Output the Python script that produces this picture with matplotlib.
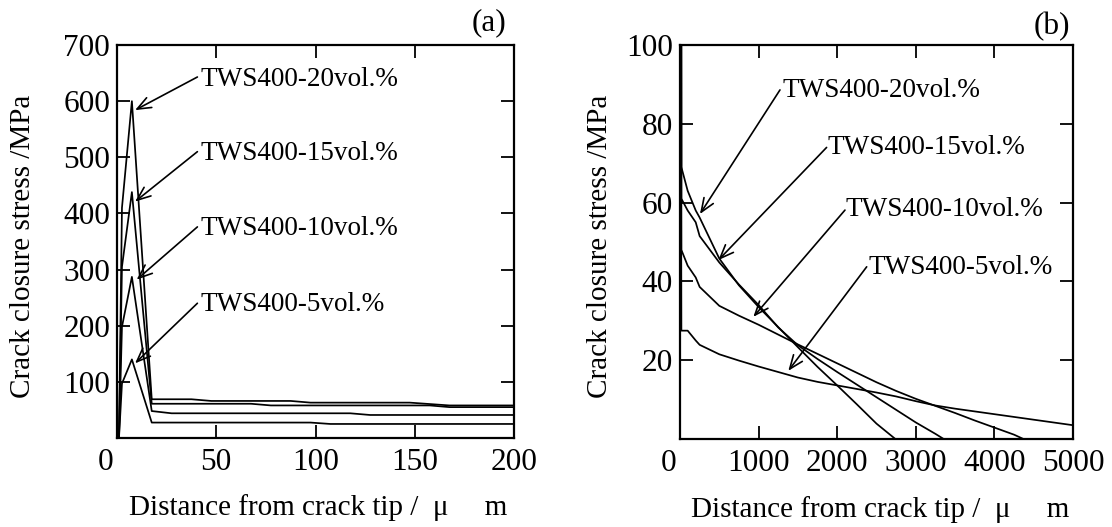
import numpy as np
import matplotlib
matplotlib.use("Agg")
import matplotlib.pyplot as plt

plt.rcParams['font.family'] = ['Liberation Serif', 'DejaVu Serif']

# ---------------- data ----------------
series = ["TWS400-20vol.%", "TWS400-15vol.%", "TWS400-10vol.%", "TWS400-5vol.%"]

# near-tip region (panel a)
a_x = [1, 2.5, 7.5, 17.5, 27.5, 37.5, 47.5, 57.5, 67.5, 77.5, 87.5, 97.5,
       107.5, 117.5, 127.5, 137.5, 147.5, 157.5, 167.5, 177.5, 187.5, 200]
a_20 = [0, 410, 600, 69, 69, 69, 66, 66, 66, 66, 66, 63,
        63, 63, 63, 63, 63, 60.5, 58, 58, 58, 58]
a_15 = [0, 305, 438, 61, 61, 61, 61, 61, 61, 58, 58, 58,
        58, 58, 58, 58, 58, 58, 55, 55, 55, 55]
a_10 = [0, 198, 287, 48, 44, 44, 44, 44, 44, 44, 44, 44,
        44, 44, 41, 41, 41, 41, 41, 41, 41, 41]
a_5 = [0, 97, 140, 27.5, 27.5, 27.5, 27.5, 27.5, 27.5, 27.5, 27.5, 27.5,
       25, 25, 25, 25, 25, 25, 25, 25, 25, 25]

# points of the near-tip data that are kept at the coarse scale of panel b
b_keep = [0, 1, 2, 3, 11, 21]

# far region (panel b continuation)
b20_x = [250, 500, 750, 1000, 1250, 1500, 1750, 2000, 2250, 2500, 2740]
b20_y = [56.2, 45.8, 39.0, 33.5, 28.4, 23.3, 18.3, 13.6, 8.8, 3.9, 0]
b15_x = [250, 500, 750, 1000, 1250, 1500, 1750, 2000, 2250, 2500, 2750, 3000, 3250, 3355]
b15_y = [51.5, 44.8, 39.2, 34.0, 28.3, 23.8, 20.3, 17.0, 13.8, 10.6, 7.4, 4.2, 1.3, 0]
b10_x = [250, 500, 750, 1000, 1250, 1500, 1750, 2000, 2250, 2500, 2750, 3000,
         3250, 3500, 3750, 4000, 4250, 4370]
b10_y = [38.6, 33.8, 31.3, 29.0, 26.5, 24.0, 21.6, 19.2, 16.8, 14.4, 12.2, 10.2,
         8.4, 6.6, 4.7, 2.9, 1.1, 0]
b5_x = [250, 500, 750, 1000, 1250, 1500, 1750, 2000, 2250, 2500, 2750, 3000,
        3250, 3500, 3750, 4000, 4250, 4500, 4750, 5000]
b5_y = [23.9, 21.5, 19.9, 18.4, 17.0, 15.6, 14.5, 13.6, 12.7, 11.8, 10.8, 9.6,
        8.5, 7.7, 7.0, 6.3, 5.6, 4.9, 4.2, 3.5]

a_xticks = [0, 50, 100, 150, 200]
a_yticks = [100, 200, 300, 400, 500, 600, 700]
b_xticks = [0, 1000, 2000, 3000, 4000, 5000]
b_yticks = [20, 40, 60, 80, 100]

xlabel = "Distance from crack tip /  \u03bc     m"
ylabel = "Crack closure stress /MPa"

curves = [
    (a_20, b20_x, b20_y),
    (a_15, b15_x, b15_y),
    (a_10, b10_x, b10_y),
    (a_5, b5_x, b5_y),
]

# ---------------- figure ----------------
W, H = 1112, 527
fig = plt.figure(figsize=(W / 100, H / 100), dpi=100)

def frac_axes(l, t, r, b):
    return fig.add_axes([l / W, 1 - b / H, (r - l) / W, (b - t) / H])

axA = frac_axes(117, 45, 514, 438)
axB = frac_axes(680, 45, 1073, 439)

TICK_FS = 22.5
LAB_FS = 21
ANN_FS = 19.5

for ax in (axA, axB):
    for sp in ax.spines.values():
        sp.set_linewidth(1.6)
    ax.tick_params(direction='in', length=9.5, width=1.3, top=True, right=True,
                   labelsize=TICK_FS)
    ax.tick_params(axis='y', pad=5)
    ax.tick_params(axis='x', pad=7)

for a_y, bx, by in curves:
    axA.plot(list(a_x) + list(bx), list(a_y) + list(by), color='black', lw=1.25)
    near_x = [a_x[i] for i in b_keep]
    near_y = [a_y[i] for i in b_keep]
    axB.plot(near_x + list(bx), near_y + list(by), color='black', lw=1.25)

axA.set_xlim(0, 200)
axA.set_ylim(0, 700)
axA.set_xticks(a_xticks)
axA.set_xticklabels([''] + [str(v) for v in a_xticks[1:]])
axA.set_yticks(a_yticks)
axA.set_yticklabels([str(v) for v in a_yticks])

axB.set_xlim(0, 5000)
axB.set_ylim(0, 100)
axB.set_xticks(b_xticks)
axB.set_xticklabels([''] + [str(v) for v in b_xticks[1:]])
axB.set_yticks(b_yticks)
axB.set_yticklabels([str(v) for v in b_yticks])

# origin "0" labels, shifted slightly left
for ax in (axA, axB):
    ax.annotate('0', xy=(0, 0), xycoords='axes fraction', xytext=(-8, -7),
                textcoords='offset points', ha='center', va='top', fontsize=TICK_FS)

# axis labels
for ax, xl, yl in ((axA, 0.506, -0.237), (axB, 0.509, -0.204)):
    ax.set_xlabel(xlabel, fontsize=LAB_FS)
    ax.xaxis.set_label_coords(xl, -0.178)
    ax.xaxis.label.set_va('center')
    ax.set_ylabel(ylabel, fontsize=LAB_FS)
    ax.yaxis.set_label_coords(yl, 0.489)
    ax.yaxis.label.set_va('center')

# panel tags
axA.text(0.982, 1.056, "(a)", transform=axA.transAxes, ha='right', va='center',
         fontsize=TICK_FS)
axB.text(0.992, 1.048, "(b)", transform=axB.transAxes, ha='right', va='center',
         fontsize=TICK_FS)

# annotations (text position, arrow tail, arrow tip) in data coords
ann_a = [
    ((42, 639), (40.5, 643), (9.1, 584)),
    ((42, 507), (40.5, 510), (9.1, 421)),
    ((42, 374), (40.5, 376), (9.9, 282)),
    ((42, 237), (40.5, 240), (9.1, 133)),
]
ann_b = [
    ((1300, 88.4), (1272, 88.6), (254, 57.1)),
    ((1880, 74.0), (1865, 74.0), (488, 45.4)),
    ((2110, 58.2), (2099, 58.1), (933, 31.0)),
    ((2400, 43.5), (2375, 43.7), (1378, 17.3)),
]

arrowprops = dict(arrowstyle='->,head_length=0.55,head_width=0.22', color='black',
                  lw=1.2, mutation_scale=18, shrinkA=0, shrinkB=0)

for ax, anns in ((axA, ann_a), (axB, ann_b)):
    for name, (txy, tail, tip) in zip(series, anns):
        ax.text(txy[0], txy[1], name, ha='left', va='center', fontsize=ANN_FS)
        ax.annotate('', xy=tip, xytext=tail, arrowprops=arrowprops)

fig.savefig("out.png", dpi=100)
